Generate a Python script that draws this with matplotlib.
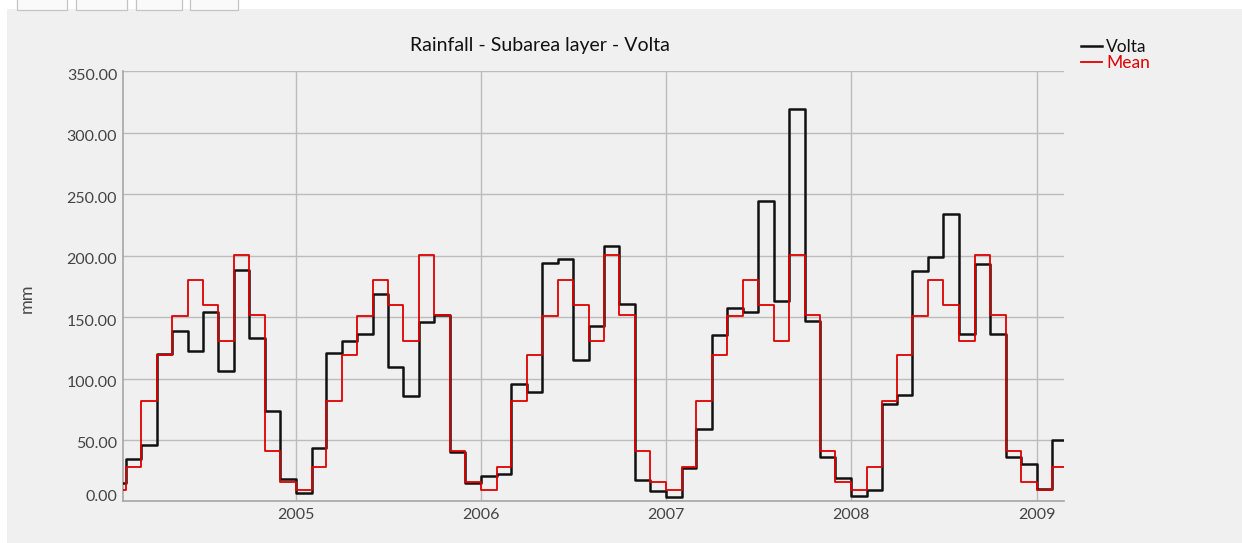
import matplotlib
matplotlib.use("Agg")
import matplotlib.pyplot as plt
import matplotlib.dates as mdates
from matplotlib.patches import Rectangle
from matplotlib.transforms import ScaledTranslation
from datetime import datetime
import pandas as pd

# ---------------- data ----------------
title = "Rainfall - Subarea layer - Volta"
y_label = "mm"
series_names = ["Volta", "Mean"]
start_month = "2004-01-01"
n_months = 63  # Jan 2004 .. Mar 2009

volta = [
    15.0, 34.3, 45.9, 120.0, 138.8, 122.2, 154.2, 106.2, 188.2, 133.0, 73.6, 18.2,   # 2004
    6.6, 43.2, 120.6, 130.9, 136.0, 168.6, 109.2, 85.8, 146.3, 152.0, 40.5, 15.2,     # 2005
    20.7, 22.0, 95.3, 88.8, 194.4, 197.4, 115.1, 142.8, 207.7, 160.7, 17.7, 8.5,      # 2006
    3.8, 27.5, 59.0, 135.8, 157.6, 154.5, 244.6, 163.2, 319.6, 146.9, 36.4, 19.3,     # 2007
    4.4, 9.3, 79.3, 86.9, 187.4, 198.8, 234.0, 136.3, 193.6, 136.6, 35.9, 30.5,       # 2008
    9.8, 49.7, 93.0,                                                                # 2009
]
mean_monthly = [9.5, 27.8, 81.5, 118.8, 151.2, 180.2, 159.9, 130.4, 200.9, 152.0, 41.1, 15.5]
mean = [mean_monthly[i % 12] for i in range(n_months)]

y_ticks = [0, 50, 100, 150, 200, 250, 300, 350]
x_tick_years = [2005, 2006, 2007, 2008, 2009]

# ---------------- figure ----------------
W, H, DPI = 1242, 543, 100
plt.rcParams["font.family"] = ["Lato", "DejaVu Sans"]
fig = plt.figure(figsize=(W / DPI, H / DPI), dpi=DPI, facecolor="white")

BG = "#f0f0f0"
# gray panel
fig.patches.append(Rectangle((7 / W, 0), 1 - 7 / W, 1 - 9 / H, transform=fig.transFigure,
                             facecolor=BG, edgecolor="none", zorder=-10))
# top toolbar buttons (partially visible)
for bx0, bx1 in [(16.5, 66.5), (76, 126.5), (136, 181.5), (190.5, 238.5)]:
    fig.patches.append(Rectangle((bx0 / W, 1 - 10.3 / H), (bx1 - bx0) / W, 12 / H,
                                 transform=fig.transFigure, facecolor="#fafafa",
                                 edgecolor="#c4c4c4", lw=0.9, zorder=-5))

left, right, top, bottom = 122.7, 1063.5, 71.5, 501.3
ax = fig.add_axes([left / W, 1 - bottom / H, (right - left) / W, (bottom - top) / H])
ax.set_zorder(2)
ax.set_facecolor(BG)

dates = pd.date_range(start_month, periods=n_months, freq="MS")
ax.step(dates, volta, where="post", color="#111111", lw=1.8, label=series_names[0], zorder=3)
ax.step(dates, mean, where="post", color="#e00000", lw=1.3, label=series_names[1], zorder=4)

# axis limits
px_per_day = (1036.7 - 296.0) / 1461.0
x0 = mdates.date2num(datetime(2005, 1, 1)) - (296.0 - left) / px_per_day
x1 = mdates.date2num(datetime(2009, 1, 1)) + (right - 1036.7) / px_per_day
ax.set_xlim(x0, x1)
ax.set_ylim(0, 350)

ax.set_yticks(y_ticks)
ax.set_yticklabels([f"{v:.2f}" for v in y_ticks])
ax.set_xticks([mdates.date2num(datetime(y, 1, 1)) for y in x_tick_years])
ax.set_xticklabels([str(y) for y in x_tick_years])

ax.grid(True, color="#bcbcbc", lw=1.0)
ax.set_axisbelow(True)
ax.tick_params(length=0, labelsize=11.5, labelcolor="#444444")
ax.tick_params(axis="y", pad=4.0)
ax.tick_params(axis="x", pad=5)
for s in ["top", "right"]:
    ax.spines[s].set_visible(False)
for s in ["left", "bottom"]:
    ax.spines[s].set_color("#a6a6a6")
    ax.spines[s].set_linewidth(1.2)

# small vertical offsets of y tick labels as in reference
for lab, v in zip(ax.get_yticklabels(), y_ticks):
    dy = 6 / DPI if v == 0 else -3 / DPI
    lab.set_transform(lab.get_transform() + ScaledTranslation(0, dy, fig.dpi_scale_trans))

ax.set_ylabel(y_label, fontsize=13, color="#4a4a4a")
ax.yaxis.set_label_coords((35 - left) / (right - left), (bottom - 298) / (bottom - top))

fig.text(539.5 / W, 1 - 45 / H, title, ha="center", va="center", fontsize=14, color="#111111")

fig.legend(loc="upper left", bbox_to_anchor=(1069 / W, 1 - 27 / H), frameon=False,
           fontsize=12.5, labelcolor="linecolor", handlelength=1.2, handletextpad=0.25,
           labelspacing=0.0, borderpad=0.2)

fig.savefig("out.png", dpi=DPI, facecolor=fig.get_facecolor())
